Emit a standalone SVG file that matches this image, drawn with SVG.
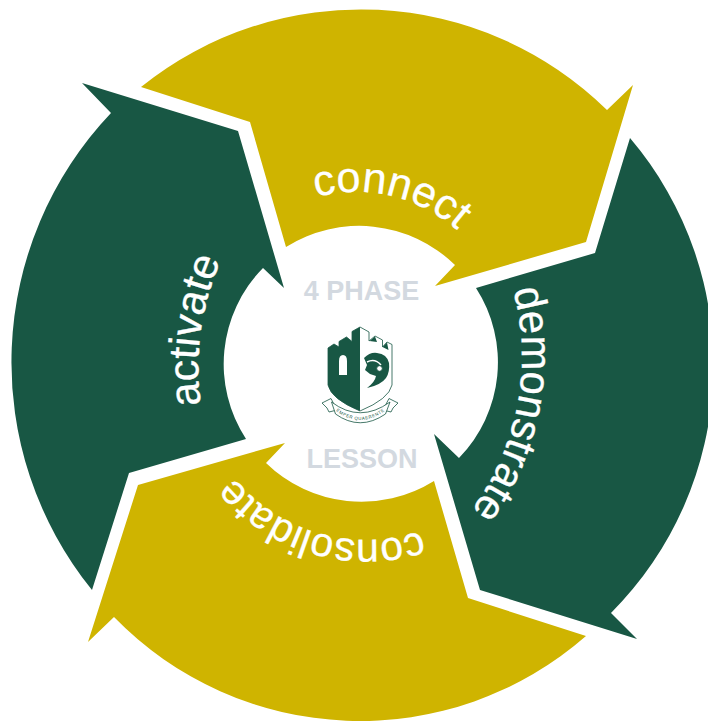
<svg xmlns="http://www.w3.org/2000/svg" width="708" height="721" viewBox="0 0 708 721">
<style>
.g{fill:#185744}.y{fill:#cfb400}
.l{font-family:"Liberation Sans",Arial,sans-serif;fill:#fff;stroke:#fff;stroke-width:.3;font-size:43px}
.c{font-family:"Liberation Sans",Arial,sans-serif;font-weight:bold;font-size:27px;fill:#d3d9e0;text-anchor:middle}
.m{font-family:"Liberation Sans",Arial,sans-serif;font-size:4.4px;letter-spacing:.6px;fill:#185744;text-anchor:middle}
.o{fill:#fff;stroke:#185744;stroke-width:.8}
.w{fill:#fff}
</style>
<defs>
<path id="p1" d="M316 197A155 155 0 0 1 456 229L480 250"/>
<path id="p2" d="M513 290A258 258 0 0 1 470 512L450 535"/>
<path id="p3" d="M421 531A172 172 0 0 1 231 474L205 452"/>
<path id="p4" d="M201 405A266 266 0 0 1 222 258L232 235"/>
<path id="rb" d="M335 410Q360 430 386 410"/>
</defs>
<rect width="708" height="721" fill="#fff"/>
<g id="connect">
<path class="y" d="M141 87L250 122L286 247A137 137 0 0 1 455 265L435 286L586 242L633 85L607 110A351 351 0 0 0 141 87Z"/>
<text class="l" textLength="151" lengthAdjust="spacingAndGlyphs"><textPath href="#p1">connect</textPath></text>
</g>
<g id="demonstrate">
<path class="g" d="M630 138L595 253L476 288A137 137 0 0 1 459 458L434 434L480 590L637 639L611 613A351 351 0 0 0 630 138Z"/>
<text class="l" textLength="232" lengthAdjust="spacingAndGlyphs"><textPath href="#p2">demonstrate</textPath></text>
</g>
<g id="consolidate">
<path class="y" d="M434 481L468 598L586 636A343 343 0 0 1 114 617L88 642L138 485L285 443L266 463A137 137 0 0 0 434 481Z"/>
<text class="l" style="font-size:41px" textLength="207" lengthAdjust="spacingAndGlyphs"><textPath href="#p3">consolidate</textPath></text>
</g>
<g id="activate">
<path class="g" d="M92 590L129 473L246 439A137 137 0 0 1 263 268L284 288L238 131L82 83L111 113A362 362 0 0 0 92 590Z"/>
<text class="l" textLength="148" lengthAdjust="spacingAndGlyphs"><textPath href="#p4">activate</textPath></text>
</g>
<g id="centre">
<text class="c" x="361.500" y="300">4 PHASE</text>
<text class="c" x="362" y="468">LESSON</text>
</g>
<g id="crest">
<path class="o" d="M360 327L369 332V341L375 336L382.500 340V347L387 342L392 344.500V385Q389 399 360 411Q331 399 328 385V348L334 344L339 347V341.500L346.500 337L352 341.500V331.500Z"/>
<path class="g" d="M360 327L352 331.500V341.500L346.500 337L339 341.500V347L334 344L328 348V385Q331 399 360 411Z"/>
<path class="g" d="M369.500 341L375 336.500L377 342ZM382.500 347L387 342.500L388.500 350Z"/>
<path class="w" d="M339 375V361Q339 355 343 355Q347 355 347 361V375Z"/>
<path class="g" d="M364 358Q370 352 377 353Q387 354 389 363Q390 372 386 378Q381 385 367 388Q375 382 376 376L370 374L365 370L367 365Z"/>
<path d="M367 362Q375 358 381 365" fill="none" stroke="#fff" stroke-width="1.500"/>
<circle cx="379.500" cy="368.500" r="2.800" fill="#fff" stroke="#185744" stroke-width=".9"/>
<path class="o" d="M322 403L331 398.500L337 410L329 412L327 408Z"/>
<path class="o" d="M398 403L389 398.500L383 410L391 412L393 408Z"/>
<path class="o" d="M331.500 402Q360 423.500 390 402L385.500 414Q360 431.500 335.500 414Z"/>
<text class="m"><textPath href="#rb" startOffset="50%">SEMPER QUAERENTES</textPath></text>
</g>
</svg>
